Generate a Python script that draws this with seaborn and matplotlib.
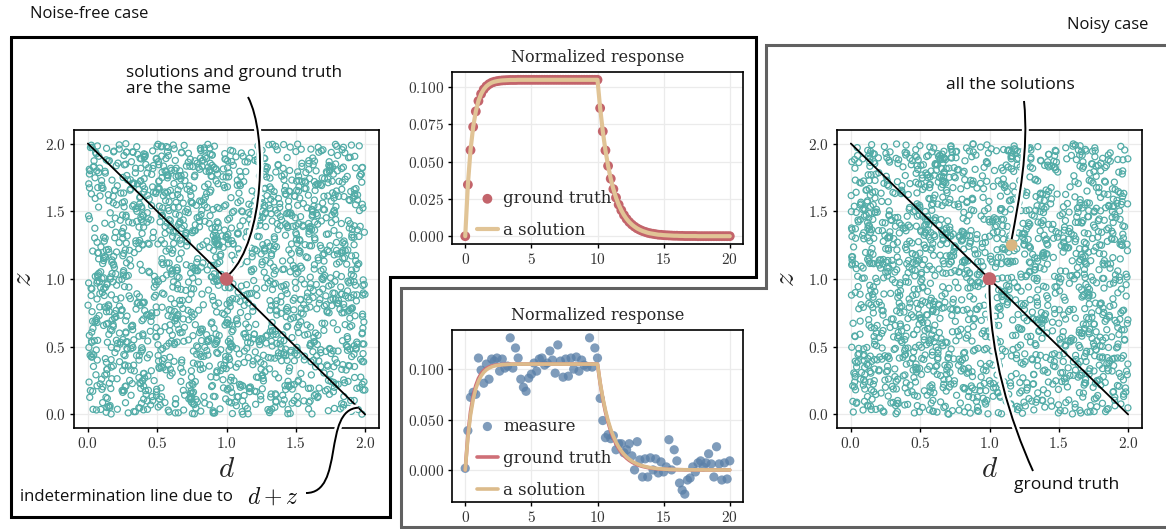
import numpy as np
import pandas as pd
import matplotlib
matplotlib.use("Agg")
import matplotlib.pyplot as plt
import seaborn as sns
from matplotlib.path import Path
from matplotlib.patches import PathPatch
from matplotlib.lines import Line2D
from matplotlib.transforms import IdentityTransform
from matplotlib.ticker import FixedLocator, FuncFormatter
import matplotlib.patheffects as pe

# ---------------------------------------------------------------- data
# sampling time of the normalized response (0 to 20, step 0.2)
time = np.round(np.linspace(0, 20, 101), 1)

# noise-free ground-truth response
ground_truth = ([0.0, 0.0346, 0.0578, 0.0734, 0.0838, 0.0908, 0.0955, 0.0986,
                 0.1007, 0.1021, 0.1031, 0.1037, 0.1041, 0.1044, 0.1046, 0.1047,
                 0.1048, 0.1049, 0.1049, 0.1049, 0.1050]
                + [0.1050] * 30
                + [0.0860, 0.0704, 0.0576, 0.0472, 0.0386, 0.0316, 0.0259, 0.0212,
                   0.0174, 0.0142, 0.0116, 0.0095, 0.0078, 0.0064, 0.0052, 0.0043,
                   0.0035, 0.0029, 0.0023, 0.0019, 0.0016, 0.0013, 0.0010, 0.0009,
                   0.0007, 0.0006, 0.0005, 0.0004, 0.0003, 0.0003, 0.0002, 0.0002,
                   0.0001, 0.0001, 0.0001, 0.0001, 0.0001]
                + [0.0] * 13)

# one of the solutions fitted on the noisy measure
noisy_solution = ([0.0, 0.0320, 0.0543, 0.0697, 0.0805, 0.0880, 0.0932, 0.0968,
                   0.0993, 0.1010, 0.1022, 0.1031, 0.1037, 0.1041, 0.1044, 0.1045,
                   0.1047, 0.1048, 0.1049, 0.1049, 0.1049]
                  + [0.1050] * 30
                  + [0.0868, 0.0717, 0.0593, 0.0490, 0.0405, 0.0335, 0.0277, 0.0229,
                     0.0189, 0.0156, 0.0129, 0.0107, 0.0088, 0.0073, 0.0060, 0.0050,
                     0.0041, 0.0034, 0.0028, 0.0023, 0.0019, 0.0016, 0.0013, 0.0011,
                     0.0009, 0.0007, 0.0006, 0.0005, 0.0004, 0.0003, 0.0003, 0.0002,
                     0.0002, 0.0002, 0.0001, 0.0001, 0.0001, 0.0001, 0.0001, 0.0001]
                  + [0.0] * 10)

# noisy measure of the response
measure = [0.0016, 0.039, 0.072, 0.077, 0.075, 0.111, 0.099, 0.086, 0.105, 0.090,
           0.110, 0.108, 0.111, 0.098, 0.110, 0.101, 0.103, 0.131, 0.101, 0.121,
           0.111, 0.090, 0.082, 0.078, 0.091, 0.095, 0.106, 0.098, 0.110, 0.111,
           0.104, 0.106, 0.118, 0.109, 0.096, 0.124, 0.108, 0.092, 0.110, 0.093,
           0.111, 0.100, 0.112, 0.098, 0.109, 0.104, 0.102, 0.131, 0.102, 0.121,
           0.111, 0.071, 0.049, 0.032, 0.035, 0.031, 0.034, 0.020, 0.026, 0.026,
           0.017, 0.020, 0.026, 0.014, 0.000, 0.028, 0.010, -0.007, 0.011, -0.007,
           0.012, 0.000, 0.011, -0.003, 0.008, -0.002, 0.003, 0.030, 0.000, 0.020,
           0.009, -0.013, -0.020, -0.024, -0.010, -0.008, 0.003, -0.002, 0.007, 0.009,
           0.003, 0.007, 0.016, 0.006, -0.007, 0.023, 0.006, -0.010, 0.007, -0.009,
           0.009]

# parameter values (d, z)
truth_d, truth_z = [1.0], [1.0]
solution_d, solution_z = [1.16], [1.25]
line_d, line_z = [0.0, 2.0], [2.0, 0.0]          # d + z = 2

# uniform samples of the (d, z) search domain for both cases
rng = np.random.default_rng(7)
n_samples = 1800
free_d, free_z = rng.uniform(0, 2, n_samples), rng.uniform(0, 2, n_samples)
noisy_d, noisy_z = rng.uniform(0, 2, n_samples), rng.uniform(0, 2, n_samples)

# ---------------------------------------------------------------- style
W, H = 1166, 529
sns.set_theme(style="whitegrid")
plt.rcParams.update({
    "mathtext.fontset": "cm",
    "axes.edgecolor": "black",
    "axes.linewidth": 1.2,
    "grid.color": "#ebebeb",
    "grid.linewidth": 0.9,
    "xtick.bottom": True, "ytick.left": True,
    "xtick.major.size": 3.2, "ytick.major.size": 3.2,
    "xtick.major.width": 1.0, "ytick.major.width": 1.0,
    "xtick.color": "black", "ytick.color": "black",
    "xtick.labelcolor": "#333333", "ytick.labelcolor": "#333333",
    "xtick.labelsize": 11, "ytick.labelsize": 11,
    "xtick.major.pad": 2.5, "ytick.major.pad": 2.5,
})
plt.rcParams["font.family"] = ["DejaVu Serif", "DejaVu Sans"]

TEAL = "#52aca7"
RED = "#c3646b"
TAN = "#d9b681"
TAN_LINE = "#e1c496"
BLUE = "#5b80a8"
SANS = ["Open Sans", "DejaVu Sans"]
SERIF = ["DejaVu Serif"]

fig = plt.figure(figsize=(W / 100, H / 100), dpi=100)


def rect(x0, y0, x1, y1):
    """Axes rectangle from pixel corners (y counted from the top)."""
    return [x0 / W, 1 - y1 / H, (x1 - x0) / W, (y1 - y0) / H]


def math_fmt(dec):
    return FuncFormatter(lambda v, _: "$%.*f$" % (dec, v))


def style_axes(ax, xticks, yticks, xdec, ydec):
    ax.xaxis.set_major_locator(FixedLocator(xticks))
    ax.yaxis.set_major_locator(FixedLocator(yticks))
    ax.xaxis.set_major_formatter(math_fmt(xdec))
    ax.yaxis.set_major_formatter(math_fmt(ydec))
    for s in ax.spines.values():
        s.set_color("black")
        s.set_linewidth(1.2)
    ax.set_axisbelow(True)


# ---------------------------------------------------------------- scatter panels
def param_panel(pos, d, z, solution=False):
    ax = fig.add_axes(rect(*pos))
    sns.scatterplot(x=d, y=z, ax=ax, marker="o", s=19, facecolor="none",
                    edgecolor=TEAL, linewidth=0.9, zorder=2, legend=False)
    sns.lineplot(x=line_d, y=line_z, ax=ax, color="black", lw=1.3,
                 sort=False, estimator=None, zorder=3)
    if solution:
        sns.scatterplot(x=solution_d, y=solution_z, ax=ax, s=70, color=TAN,
                        edgecolor="none", zorder=4, legend=False)
    sns.scatterplot(x=truth_d, y=truth_z, ax=ax, s=95, color=RED,
                    edgecolor="none", zorder=5, legend=False)
    ax.set_xlim(-0.1, 2.1)
    ax.set_ylim(-0.1, 2.1)
    style_axes(ax, [0, 0.5, 1, 1.5, 2], [0, 0.5, 1, 1.5, 2], 1, 1)
    ax.set_xlabel("$d$", fontsize=21, labelpad=3)
    ax.set_ylabel("$z$", fontsize=21, labelpad=6)
    return ax


ax_free = param_panel((74, 130, 379, 428), free_d, free_z)
ax_noisy = param_panel((837, 130, 1142, 428), noisy_d, noisy_z, solution=True)

# ---------------------------------------------------------------- response insets
resp = pd.DataFrame({"t": time, "truth": ground_truth,
                     "solution": noisy_solution, "measure": measure})

legend_kw = dict(loc="lower left", frameon=False,
                 prop={"family": SERIF, "size": 12}, handlelength=1.3,
                 handletextpad=0.3, labelspacing=0.9, borderaxespad=0.2)

ax_top = fig.add_axes(rect(452, 72, 743, 244))
sns.scatterplot(data=resp, x="t", y="truth", ax=ax_top, s=50, color=RED,
                edgecolor="none", label="ground truth", zorder=3)
sns.lineplot(data=resp, x="t", y="truth", ax=ax_top, color=TAN_LINE, lw=3.0,
             label="a solution", zorder=4)
ax_top.set_xlim(-1, 21)
ax_top.set_ylim(-0.00525, 0.11025)
style_axes(ax_top, [0, 5, 10, 15, 20], [0, 0.025, 0.05, 0.075, 0.1], 0, 3)
ax_top.set_xlabel("")
ax_top.set_ylabel("")
ax_top.set_title("Normalized response", fontsize=11.5, family=SERIF, pad=7)
ax_top.legend(bbox_to_anchor=(0.05, -0.03), **legend_kw)

ax_bot = fig.add_axes(rect(452, 330, 743, 502))
sns.scatterplot(data=resp, x="t", y="measure", ax=ax_bot, s=44, color=BLUE,
                alpha=0.78, edgecolor="none", label="measure", zorder=2)
sns.lineplot(data=resp, x="t", y="truth", ax=ax_bot, color="#cf6f77", lw=2.6,
             label="ground truth", zorder=3)
sns.lineplot(data=resp, x="t", y="solution", ax=ax_bot, color="#dcbb8b", lw=2.6,
             label="a solution", zorder=4)
ax_bot.set_xlim(-1, 21)
ax_bot.set_ylim(-0.0318, 0.1388)
style_axes(ax_bot, [0, 5, 10, 15, 20], [0, 0.05, 0.1], 0, 3)
ax_bot.set_xlabel("")
ax_bot.set_ylabel("")
ax_bot.set_title("Normalized response", fontsize=11.5, family=SERIF, pad=7)
ax_bot.legend(bbox_to_anchor=(0.05, -0.04), **legend_kw)

# ---------------------------------------------------------------- frames
def frame(points, color):
    xs = [p[0] for p in points] + [points[0][0]]
    ys = [H - p[1] for p in points] + [H - points[0][1]]
    fig.add_artist(Line2D(xs, ys, transform=IdentityTransform(), color=color,
                          lw=2.2, solid_joinstyle="miter", zorder=0.5))


frame([(11, 37), (756, 37), (756, 277), (390, 277), (390, 517), (11, 517)], "black")
frame([(401, 527), (401, 288), (766, 288), (766, 45), (1175, 45), (1175, 527)], "#616161")

# ---------------------------------------------------------------- annotations
def to_px(ax, x, y):
    dx, dy = ax.transData.transform((x, y))
    return dx, H - dy


def curve(p0, c1, c2, p3):
    verts = [(x, H - y) for x, y in (p0, c1, c2, p3)]
    path = Path(verts, [Path.MOVETO, Path.CURVE4, Path.CURVE4, Path.CURVE4])
    patch = PathPatch(path, fill=False, lw=1.4, ec="black",
                      transform=IdentityTransform(), zorder=10,
                      path_effects=[pe.Stroke(linewidth=5, foreground="white"),
                                    pe.Normal()])
    fig.add_artist(patch)


def label(x, y, s, ha="left", size=12.2):
    return fig.text(x / W, 1 - y / H, s, ha=ha, va="center", fontsize=size,
                    family=SANS, color="#111111", linespacing=0.95, zorder=11)


label(30, 14, "Noise-free case", size=12)
label(1148, 25, "Noisy case", ha="right", size=12)
label(126, 81, "solutions and ground truth\nare the same", size=12.3)
label(20, 497, "indetermination line due to", size=12.1)
fig.text(247 / W, 1 - 497 / H, "$d+z$", ha="left", va="center", fontsize=17,
         color="#111111", zorder=11)
label(1010, 85, "all the solutions", ha="center", size=12.6)
label(1067, 485, "ground truth", ha="center", size=12.6)

rx, ry = to_px(ax_free, truth_d[0], truth_z[0])
curve((248, 97), (268, 135), (264, 240), (rx + 3, ry - 5))

lx, ly = to_px(ax_free, 1.95, 0.05)
curve((306, 493), (345, 493), (322, ly + 2), (lx, ly))

sx, sy = to_px(ax_noisy, solution_d[0], solution_z[0])
curve((1024, 101), (1029, 150), (1019, 200), (sx, sy - 6))

gx, gy = to_px(ax_noisy, truth_d[0], truth_z[0])
curve((gx, gy + 6), (gx, gy + 75), (1010, 420), (1033, 471))

fig.savefig("out.png", dpi=100)
